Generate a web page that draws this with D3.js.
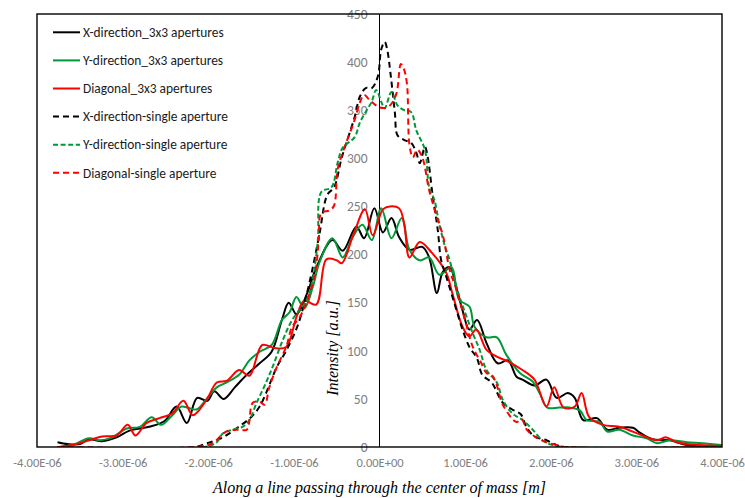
<!DOCTYPE html>
<html>
<head>
<meta charset="utf-8">
<script src="https://cdn.jsdelivr.net/npm/d3@7"></script>
<style>
body { margin: 0; background: #fff; }
svg { display: block; }
.legend-label { font-family: Carlito, Lato, sans-serif; font-size: 13.4px; fill: #1a1a1a; }
.axis-title { font-family: "Liberation Serif", serif; font-style: italic; font-size: 16px; fill: #000; }
</style>
</head>
<body>
<svg id="chart" width="745" height="498"></svg>
<script>
// position along the line (micrometres), intensity (a.u.)
var xDir3x3 = [[-3.76,5],[-3.64,3],[-3.50,3],[-3.39,8],[-3.24,6],[-3.07,10],[-2.92,17],[-2.69,21],[-2.51,27],[-2.37,42],[-2.25,25],[-2.13,51],[-2.01,48],[-1.93,58],[-1.82,50],[-1.69,62],[-1.55,75],[-1.40,87],[-1.26,99],[-1.14,132],[-1.06,150],[-0.97,138],[-0.84,161],[-0.74,186],[-0.55,215],[-0.43,204],[-0.27,229],[-0.18,217],[-0.06,248],[0.04,223],[0.14,238],[0.23,218],[0.35,205],[0.50,208],[0.58,197],[0.67,160],[0.74,182],[0.82,187],[0.90,165],[0.97,142],[1.05,122],[1.14,132],[1.25,108],[1.38,87],[1.50,90],[1.60,73],[1.67,70],[1.81,64],[1.95,70],[2.07,51],[2.20,56],[2.28,51],[2.38,28],[2.54,30],[2.66,18],[2.80,20],[2.96,20],[3.04,15],[3.19,8],[3.39,7],[3.59,2],[3.82,0],[4.00,0]];
var yDir3x3 = [[-3.74,0],[-3.59,2],[-3.39,9],[-3.27,7],[-3.12,10],[-2.96,19],[-2.80,21],[-2.66,31],[-2.55,23],[-2.42,33],[-2.31,42],[-2.14,39],[-2.02,50],[-1.90,62],[-1.79,67],[-1.64,75],[-1.52,90],[-1.40,99],[-1.26,106],[-1.14,132],[-1.05,140],[-0.97,156],[-0.88,144],[-0.78,166],[-0.70,192],[-0.55,217],[-0.43,197],[-0.32,217],[-0.20,231],[-0.09,215],[0.02,248],[0.14,217],[0.26,238],[0.35,205],[0.47,194],[0.58,197],[0.70,179],[0.84,187],[0.93,153],[1.05,146],[1.11,125],[1.25,114],[1.37,114],[1.48,96],[1.64,77],[1.79,68],[1.87,56],[1.96,41],[2.10,41],[2.22,41],[2.34,38],[2.42,28],[2.57,26],[2.66,16],[2.80,18],[2.96,12],[3.12,9],[3.24,4],[3.39,7],[3.59,5],[3.77,4],[4.00,2]];
var diag3x3 = [[-3.74,0],[-3.59,2],[-3.39,7],[-3.24,11],[-3.07,12],[-2.94,23],[-2.85,12],[-2.72,25],[-2.57,30],[-2.42,35],[-2.29,48],[-2.18,33],[-2.02,49],[-1.90,67],[-1.78,69],[-1.64,80],[-1.52,74],[-1.37,106],[-1.23,103],[-1.09,104],[-0.97,135],[-0.88,152],[-0.74,148],[-0.62,195],[-0.50,194],[-0.44,191],[-0.30,222],[-0.17,247],[-0.08,220],[0.04,247],[0.12,250],[0.23,248],[0.29,231],[0.35,197],[0.47,213],[0.61,202],[0.78,181],[0.85,160],[0.97,125],[1.05,115],[1.13,122],[1.25,101],[1.37,94],[1.52,88],[1.67,80],[1.81,70],[1.95,42],[2.04,62],[2.15,41],[2.28,42],[2.36,56],[2.45,31],[2.61,23],[2.80,21],[3.07,12],[3.24,7],[3.35,10],[3.47,5],[3.74,2],[4.00,1]];
var xDirSingle = [[-3.76,0],[-2.16,0],[-2.01,4],[-1.83,10],[-1.66,20],[-1.50,31],[-1.40,42],[-1.32,57],[-1.20,83],[-1.09,100],[-0.96,125],[-0.87,152],[-0.79,182],[-0.70,222],[-0.61,262],[-0.53,270],[-0.44,301],[-0.29,343],[-0.23,364],[-0.16,373],[-0.09,373],[-0.02,385],[0.02,413],[0.06,421],[0.09,413],[0.13,387],[0.18,347],[0.21,324],[0.29,319],[0.37,316],[0.43,306],[0.47,295],[0.53,312],[0.56,303],[0.62,262],[0.68,226],[0.72,194],[0.78,177],[0.90,142],[0.97,122],[1.05,104],[1.14,92],[1.20,75],[1.31,67],[1.44,46],[1.55,39],[1.65,34],[1.72,20],[1.81,11],[1.95,7],[2.07,2],[2.16,0],[4.00,0]];
var yDirSingle = [[-3.76,0],[-2.04,0],[-1.90,5],[-1.83,14],[-1.72,18],[-1.60,21],[-1.52,28],[-1.43,47],[-1.34,64],[-1.25,83],[-1.13,111],[-1.02,132],[-0.85,153],[-0.78,174],[-0.72,215],[-0.68,265],[-0.56,270],[-0.49,295],[-0.43,311],[-0.29,322],[-0.23,337],[-0.15,350],[-0.09,359],[-0.04,371],[0.02,359],[0.06,352],[0.14,369],[0.21,355],[0.29,350],[0.37,348],[0.43,329],[0.53,309],[0.58,270],[0.64,257],[0.70,231],[0.76,210],[0.82,194],[0.91,163],[0.99,142],[1.09,118],[1.17,101],[1.25,80],[1.37,67],[1.44,49],[1.55,35],[1.67,28],[1.79,18],[1.90,7],[2.02,2],[2.14,0],[4.00,0]];
var diagSingle = [[-3.76,0],[-2.14,0],[-1.95,4],[-1.79,16],[-1.64,18],[-1.55,18],[-1.48,46],[-1.40,47],[-1.34,44],[-1.29,61],[-1.20,83],[-1.09,104],[-1.02,125],[-0.93,135],[-0.76,177],[-0.71,215],[-0.68,243],[-0.58,246],[-0.53,251],[-0.49,288],[-0.43,306],[-0.29,340],[-0.23,358],[-0.18,366],[-0.12,361],[0.00,353],[0.09,353],[0.15,358],[0.20,368],[0.25,398],[0.28,394],[0.32,378],[0.35,314],[0.39,301],[0.44,309],[0.50,301],[0.58,267],[0.67,239],[0.74,220],[0.82,184],[0.90,163],[1.02,125],[1.09,104],[1.19,87],[1.25,77],[1.31,75],[1.37,64],[1.44,44],[1.60,26],[1.66,29],[1.72,18],[1.83,10],[1.95,5],[2.07,2],[2.16,0],[4.00,0]];

var seriesNames = ['X-direction_3x3 apertures', 'Y-direction_3x3 apertures', 'Diagonal_3x3 apertures',
                   'X-direction-single aperture', 'Y-direction-single aperture', 'Diagonal-single aperture'];
var seriesData = [xDir3x3, yDir3x3, diag3x3, xDirSingle, yDirSingle, diagSingle];

var xTickValues = [-4, -3, -2, -1, 0, 1, 2, 3, 4];
var xTickLabels = ['-4.00E-06', '-3.00E-06', '-2.00E-06', '-1.00E-06', '0.00E+00', '1.00E-06', '2.00E-06', '3.00E-06', '4.00E-06'];
var yTickValues = [0, 50, 100, 150, 200, 250, 300, 350, 400, 450];

var colors = ['#000000', '#00993a', '#ff0000', '#000000', '#00993a', '#ff0000'];
var dashes = [null, null, null, '6,4', '5,2.6', '6,4'];

var width = 745, height = 498;
var margin = {top: 14, right: 23, bottom: 51, left: 37};
var svg = d3.select('#chart');

var x = d3.scaleLinear().domain([-4, 4]).range([margin.left, width - margin.right]);
var y = d3.scaleLinear().domain([0, 450]).range([height - margin.bottom, margin.top]);

svg.append('defs').append('clipPath')
    .attr('id', 'plot-clip')
  .append('rect')
    .attr('x', margin.left)
    .attr('y', margin.top)
    .attr('width', width - margin.left - margin.right)
    .attr('height', height - margin.top - margin.bottom);

// x axis labels
var xAxis = svg.append('g')
    .attr('transform', 'translate(0,' + y(0) + ')')
    .call(d3.axisBottom(x)
        .tickValues(xTickValues)
        .tickSize(0)
        .tickPadding(11)
        .tickFormat(function(d, i) { return xTickLabels[i]; }));
xAxis.select('.domain').remove();
xAxis.attr('font-family', 'Carlito, Lato, sans-serif').attr('font-size', 12.5);
xAxis.selectAll('text').attr('fill', '#7f7f7f');

// y axis sits at x = 0
var yAxis = svg.append('g')
    .attr('transform', 'translate(' + x(0) + ',0)')
    .call(d3.axisLeft(y)
        .tickValues(yTickValues)
        .tickSize(0)
        .tickPadding(12));
yAxis.select('.domain').remove();
yAxis.attr('font-family', 'Carlito, Lato, sans-serif').attr('font-size', 13.5);
yAxis.selectAll('text').attr('fill', '#7f7f7f');

svg.append('line')
    .attr('x1', x(0)).attr('x2', x(0))
    .attr('y1', y(0)).attr('y2', y(450))
    .attr('stroke', '#000')
    .attr('stroke-width', 1);

var line = d3.line()
    .x(function(d) { return x(d[0]); })
    .y(function(d) { return y(d[1]); })
    .curve(d3.curveCatmullRom.alpha(0.5));

svg.append('g')
    .attr('clip-path', 'url(#plot-clip)')
  .selectAll('.series')
    .data(seriesData)
  .enter().append('path')
    .attr('class', 'series')
    .attr('d', line)
    .attr('fill', 'none')
    .attr('stroke', function(d, i) { return colors[i]; })
    .attr('stroke-width', 2)
    .attr('stroke-dasharray', function(d, i) { return dashes[i]; });

// plot frame
svg.append('rect')
    .attr('x', margin.left)
    .attr('y', margin.top)
    .attr('width', width - margin.left - margin.right)
    .attr('height', height - margin.top - margin.bottom)
    .attr('fill', 'none')
    .attr('stroke', '#000')
    .attr('stroke-width', 1.4);

// legend
var legend = svg.append('g').selectAll('.legend-item')
    .data(seriesNames)
  .enter().append('g')
    .attr('class', 'legend-item')
    .attr('transform', function(d, i) { return 'translate(53,' + (32.3 + i * 28.1) + ')'; });
legend.append('line')
    .attr('x1', 0).attr('x2', 27)
    .attr('stroke', function(d, i) { return colors[i]; })
    .attr('stroke-width', 2)
    .attr('stroke-dasharray', function(d, i) { return dashes[i]; });
legend.append('text')
    .attr('class', 'legend-label')
    .attr('x', 30)
    .attr('dy', '0.35em')
    .text(function(d) { return d; });

// axis titles
svg.append('text')
    .attr('class', 'axis-title')
    .attr('x', x(0))
    .attr('y', 493)
    .attr('text-anchor', 'middle')
    .text('Along a line passing through the center of mass [m]');

svg.append('text')
    .attr('class', 'axis-title')
    .attr('transform', 'translate(338,348)rotate(-90)')
    .attr('text-anchor', 'middle')
    .text('Intensity [a.u.]');
</script>
</body>
</html>
